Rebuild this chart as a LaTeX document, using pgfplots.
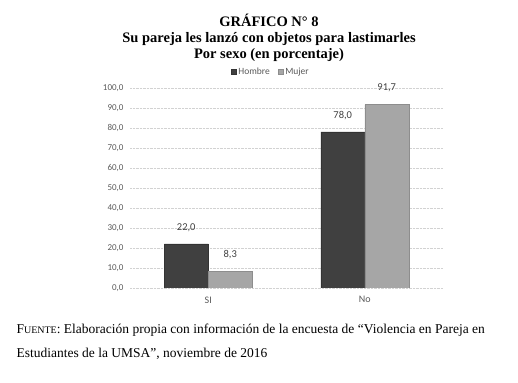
\documentclass[border=0pt]{standalone}
\usepackage{fontspec}
\setmainfont{Liberation Serif}
\newfontfamily\carlito{Carlito}
\usepackage{pgfplots}
\pgfplotsset{compat=1.18}
\definecolor{hombre}{HTML}{404040}
\definecolor{mujer}{HTML}{A6A6A6}
\definecolor{ticktxt}{HTML}{595959}
\begin{document}
\begin{tikzpicture}[x=1pt,y=1pt]
\path[use as bounding box] (0,0) rectangle (518,382);
\node[font=\bfseries\fontsize{14.5}{16}\selectfont, align=center, inner sep=0pt] at (269,382-38)
  {GRÁFICO N° 8\\Su pareja les lanzó con objetos para lastimarles\\Por sexo (en porcentaje)};
\begin{axis}[
  at={(130pt,94pt)}, anchor=south west,
  scale only axis, width=313pt, height=200pt,
  xmin=-0.5, xmax=1.5, ymin=0, ymax=100,
  ybar=0pt, bar width=44pt,
  xtick={0,1}, xticklabels={SI,No},
  ytick={0,10,...,100},
  axis line style={draw=none},
  major tick length=0pt,
  ymajorgrids, grid style={gray!35, densely dotted, line width=0.6pt},
  /pgf/number format/assume math mode=true,
  yticklabel={\pgfmathprintnumber[fixed,fixed zerofill,precision=1,use comma]{\tick}},
  yticklabel style={font=\carlito\fontsize{9}{10}\selectfont, text=ticktxt, xshift=-3pt},
  xticklabel style={font=\carlito\fontsize{10}{11}\selectfont, text=ticktxt, yshift=-5pt},
  nodes near coords={\pgfmathprintnumber[fixed,fixed zerofill,precision=1,use comma]{\pgfplotspointmeta}},
  nodes near coords style={font=\carlito\fontsize{10.5}{12}\selectfont, text=hombre, yshift=9pt},
  legend style={draw=none, at={(0.45,1.08)}, anchor=center, legend columns=2,
    font=\carlito\fontsize{9.5}{11}\selectfont, text=ticktxt,
    /tikz/every even column/.append style={column sep=6pt}},
  legend image code/.code={\draw[#1] (0pt,-2.5pt) rectangle (5pt,2.5pt);},
  legend cell align=left,
]
\addplot[fill=hombre, draw=hombre!80!black, line width=0.4pt] coordinates {(0,22.0) (1,78.0)};
\addplot[fill=mujer, draw=mujer!85!black, line width=0.4pt] coordinates {(0,8.3) (1,91.7)};
\legend{Hombre,Mujer}
\end{axis}
\node[anchor=base west, font=\fontsize{13.5}{16}\selectfont] at (13,382-334) {F{\fontsize{10}{11}\selectfont UENTE}: Elaboración propia con información de la encuesta de “Violencia en Pareja en};
\node[anchor=base west, font=\fontsize{13.5}{16}\selectfont] at (13,382-357) {Estudiantes de la UMSA”, noviembre de 2016};
\end{tikzpicture}
\end{document}
